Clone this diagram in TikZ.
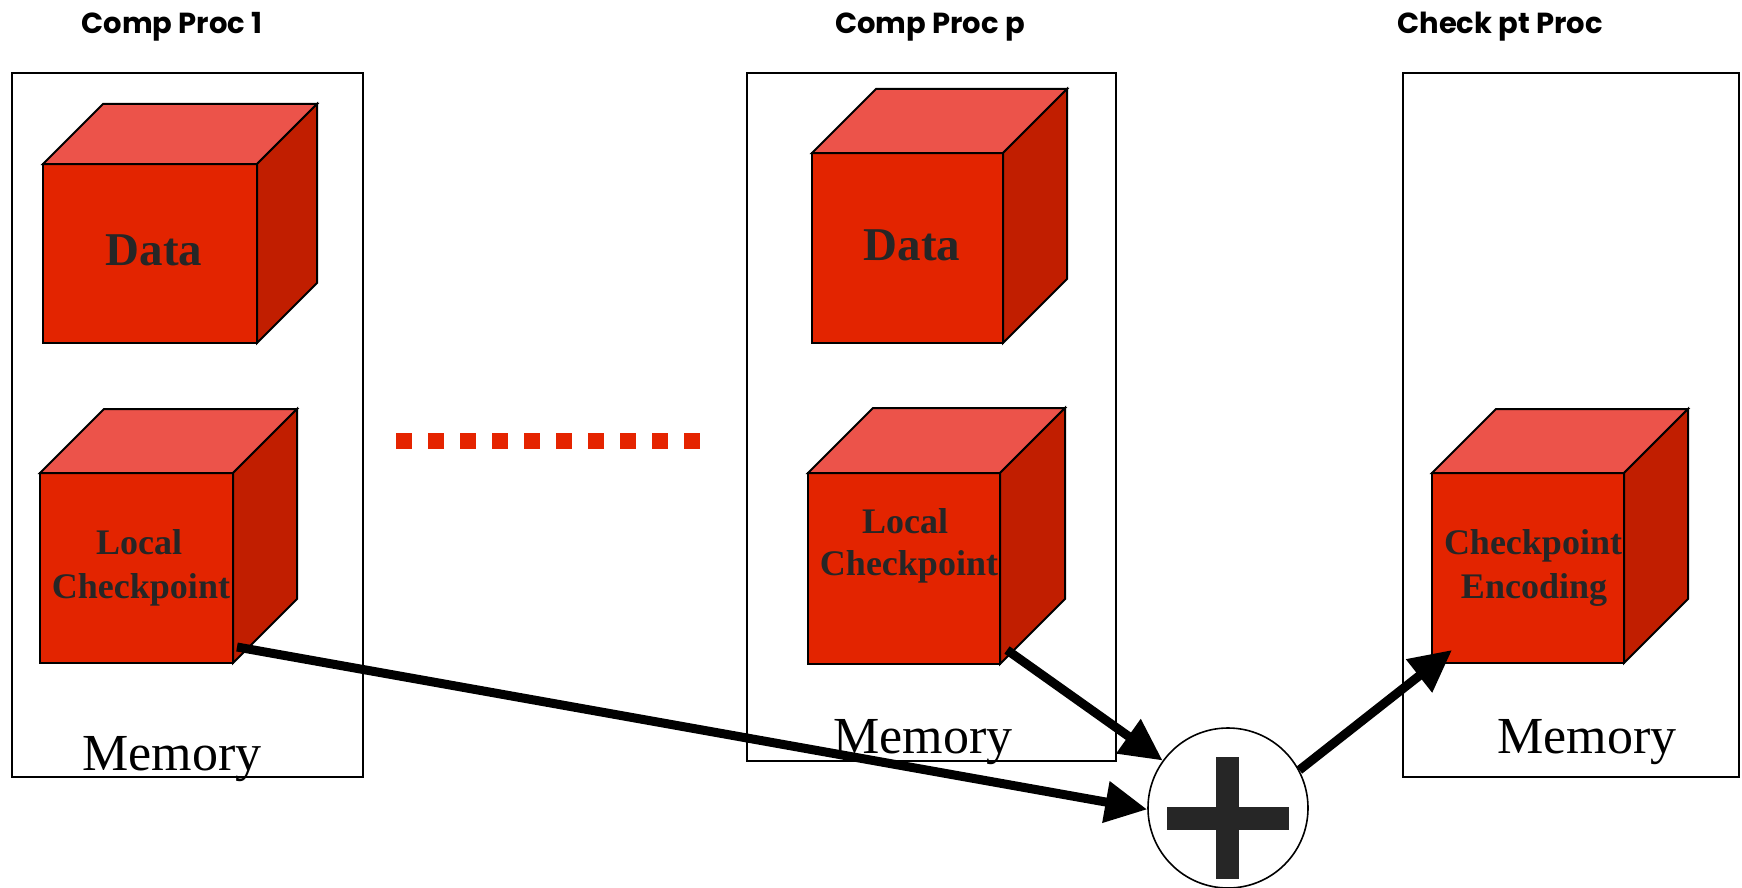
\documentclass[tikz,border=0pt]{standalone}
\usepackage{fontspec}
\setmainfont{Liberation Serif}
\newfontfamily\titlefont{Poppins}
\usetikzlibrary{arrows.meta}

\definecolor{cubefront}{HTML}{E32400}
\definecolor{cubetop}{HTML}{EC534A}
\definecolor{cubeside}{HTML}{C11E00}
\definecolor{inkgray}{HTML}{262626}
\definecolor{dotred}{HTML}{E52400}

\tikzset{
  procbox/.style={draw=black, line width=1.6pt, inner sep=0pt, outer sep=0pt},
  cubeedge/.style={draw=black, line width=2pt, line join=miter},
  cubefrontface/.style={cubeedge, fill=cubefront, inner sep=0pt, outer sep=0pt},
  proctitle/.style={anchor=base, inner sep=0pt, font=\titlefont\bfseries\fontsize{29}{32}\selectfont},
  datalabel/.style={anchor=base, inner sep=0pt, text=inkgray, font=\bfseries\fontsize{47}{50}\selectfont},
  cubelabel/.style={anchor=base, inner sep=0pt, text=inkgray, font=\bfseries\fontsize{36}{40}\selectfont},
  memlabel/.style={anchor=base, inner sep=0pt, font=\fontsize{52}{56}\selectfont},
  flow/.style={draw=black, line width=9pt, -{Triangle[length=42pt, width=40pt]}},
}

% a box with a lit top and a shaded right side; #1 name, (#2,#3) centre of the
% front face, #4 x #5 its size, #6 depth of the box
\newcommand\drawcube[6]{%
  \node[cubefrontface, minimum width=#4pt, minimum height=#5pt] (#1) at (#2,#3) {};
  \filldraw[cubeedge, fill=cubetop] (#1.north west) -- ++(#6,-#6)
    -- ([shift={(#6,-#6)}]#1.north east) -- (#1.north east) -- cycle;
  \filldraw[cubeedge, fill=cubeside] (#1.north east) -- ++(#6,-#6)
    -- ([shift={(#6,-#6)}]#1.south east) -- (#1.south east) -- cycle;
}

\begin{document}
\begin{tikzpicture}[x=1pt, y=-1pt]
\useasboundingbox (0,0) rectangle (1742,888);

% processor titles
\node[proctitle] (title1) at (172,34) {Comp Proc 1};
\node[proctitle] (titlep) at (930,34) {Comp Proc p};
\node[proctitle] (titlec) at (1500,34) {Check pt Proc};

% processor memories
\node[procbox, minimum width=351pt, minimum height=704pt] (box1) at (187.5,425) {};
\node[procbox, minimum width=369pt, minimum height=688pt] (boxp) at (931.5,417) {};
\node[procbox, minimum width=336pt, minimum height=704pt] (boxc) at (1571,425) {};

% blocks held in memory
\drawcube{data1}{150}{253.5}{214}{179}{60}
\drawcube{datap}{907.5}{248}{191}{190}{64}
\drawcube{lc1}{136.5}{568}{193}{190}{64}
\drawcube{lcp}{904}{568.5}{192}{191}{65}
\drawcube{enc}{1528}{568}{192}{190}{64}

\node[datalabel] (data1txt) at (154,265) {Data};
\node[datalabel] (dataptxt) at (912,260) {Data};
\node[cubelabel] (lc1a) at (139,554) {Local};
\node[cubelabel] (lc1b) at (141,598) {Checkpoint};
\node[cubelabel] (lcpa) at (905,533) {Local};
\node[cubelabel] (lcpb) at (909,575) {Checkpoint};
\node[cubelabel] (enca) at (1533,554) {Checkpoint};
\node[cubelabel] (encb) at (1534,598) {Encoding};

\node[memlabel] (mem1) at (172,770) {Memory};
\node[memlabel] (memp) at (923,753) {Memory};
\node[memlabel] (memc) at (1587,753) {Memory};

% the processors in between
\draw[dotred, line width=16pt, dash pattern=on 16pt off 16pt] (396,441) -- (700,441);

% summation of the local checkpoints
\node[draw=black, line width=1.6pt, fill=white, circle, minimum size=160pt, inner sep=0pt] (plus) at (1228,808) {};
\fill[inkgray] ([shift={(-12,-51)}]plus.center) rectangle ([shift={(11,71)}]plus.center);
\fill[inkgray] ([shift={(-61,-1)}]plus.center) rectangle ([shift={(61,22)}]plus.center);

\draw[flow] ([shift={(4,-16)}]lc1.south east) -- (plus.181);
\draw[flow] ([shift={(7,-14)}]lcp.south east) -- (plus.144);
\draw[flow] (plus.28) -- ([shift={(20,-13)}]enc.south west);
\end{tikzpicture}
\end{document}
